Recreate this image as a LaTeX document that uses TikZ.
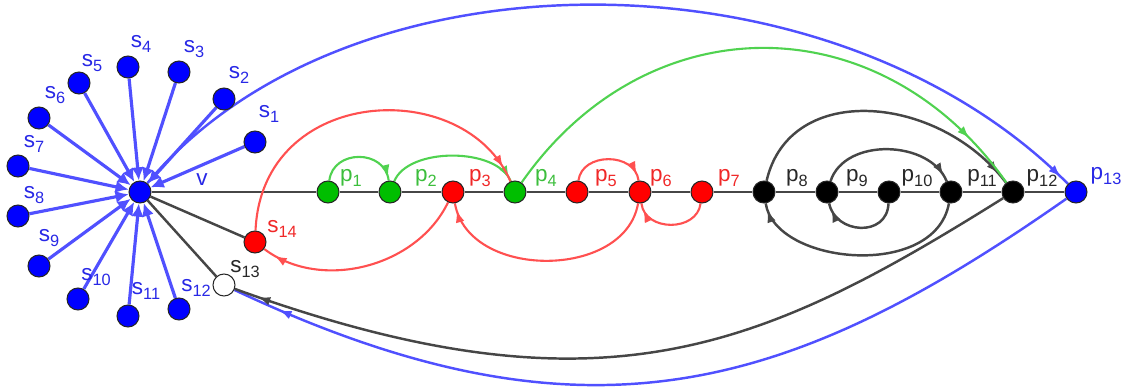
\documentclass[tikz,border=0pt]{standalone}
\usepackage{fontspec}
\setmainfont{Liberation Sans}
\usetikzlibrary{arrows.meta,decorations.markings,backgrounds}
\definecolor{nblue}{RGB}{0,0,255}
\definecolor{lblue}{RGB}{80,80,255}
\definecolor{tblue}{RGB}{40,40,230}
\definecolor{nred}{RGB}{255,0,0}
\definecolor{lred}{RGB}{255,80,80}
\definecolor{tred}{RGB}{240,40,40}
\definecolor{ngreen}{RGB}{0,190,0}
\definecolor{lgreen}{RGB}{80,210,80}
\definecolor{tgreen}{RGB}{60,190,60}
\definecolor{lgray}{RGB}{70,70,70}
\definecolor{tgray}{RGB}{40,40,40}
\newcommand{\lbl}[2]{#1\raisebox{-3pt}{\fontsize{9.3}{10}\selectfont #2}}
\begin{document}
\begin{tikzpicture}[x=0.02cm,y=-0.02cm,
  pt/.style={circle,draw=black!85,line width=0.6pt,minimum size=0.44cm,inner sep=0pt},
  bpt/.style={pt,fill=nblue},
  rpt/.style={pt,fill=nred},
  gpt/.style={pt,fill=ngreen},
  kpt/.style={pt,fill=black},
  wpt/.style={pt,fill=white},
  lab/.style={inner sep=0pt,font=\fontsize{12.8}{14}\selectfont},
  spoke/.style={lblue,line width=1.8pt,-{Latex[length=7.5pt,width=7pt]}},
  blk/.style={lgray,line width=1.4pt},
  bln/.style={lblue,line width=1.4pt},
  rln/.style={lred,line width=1.2pt},
  gln/.style={lgreen,line width=1.2pt},
  tip/.style={postaction={decorate,decoration={markings,mark=at position #1 with {\arrow{Latex[length=7pt,width=5pt]}}}}},
  tip/.default=-4pt]
\useasboundingbox (0,0) rectangle (1134,389);
% nodes
\node[bpt] (v) at (140,192) {};
\node[bpt] (s1) at (255,142) {};
\node[bpt] (s2) at (224,99) {};
\node[bpt] (s3) at (179,72) {};
\node[bpt] (s4) at (128,67) {};
\node[bpt] (s5) at (79,83) {};
\node[bpt] (s6) at (39,118) {};
\node[bpt] (s7) at (18,166) {};
\node[bpt] (s8) at (18,216) {};
\node[bpt] (s9) at (39,266) {};
\node[bpt] (s10) at (78,299) {};
\node[bpt] (s11) at (128,316) {};
\node[bpt] (s12) at (179,309) {};
\node[wpt] (s13) at (224,285) {};
\node[rpt] (s14) at (255,242) {};
\node[gpt] (p1) at (328,192) {};
\node[gpt] (p2) at (390,192) {};
\node[rpt] (p3) at (453,192) {};
\node[gpt] (p4) at (515,192) {};
\node[rpt] (p5) at (577,192) {};
\node[rpt] (p6) at (640,192) {};
\node[rpt] (p7) at (702,192) {};
\node[kpt] (p8) at (764,192) {};
\node[kpt] (p9) at (827,192) {};
\node[kpt] (p10) at (889,192) {};
\node[kpt] (p11) at (951,192) {};
\node[kpt] (p12) at (1013,192) {};
\node[bpt] (p13) at (1076,192) {};
% labels
\node[lab,text=tblue] (lv) at (202,180) {v};
\node[lab,text=tblue] (ls1) at (269,114) {\lbl{s}{1}};
\node[lab,text=tblue] (ls2) at (239,75) {\lbl{s}{2}};
\node[lab,text=tblue] (ls3) at (194,49) {\lbl{s}{3}};
\node[lab,text=tblue] (ls4) at (141,44) {\lbl{s}{4}};
\node[lab,text=tblue] (ls5) at (92,63) {\lbl{s}{5}};
\node[lab,text=tblue] (ls6) at (55,95) {\lbl{s}{6}};
\node[lab,text=tblue] (ls7) at (34,144) {\lbl{s}{7}};
\node[lab,text=tblue] (ls8) at (34,195) {\lbl{s}{8}};
\node[lab,text=tblue] (ls9) at (49,238) {\lbl{s}{9}};
\node[lab,text=tblue] (ls10) at (96,277) {\lbl{s}{10}};
\node[lab,text=tblue] (ls11) at (146,291) {\lbl{s}{11}};
\node[lab,text=tblue] (ls12) at (196,288) {\lbl{s}{12}};
\node[lab,text=tgray] (ls13) at (245,269) {\lbl{s}{13}};
\node[lab,text=tred] (ls14) at (282,229) {\lbl{s}{14}};
\node[lab,text=tgreen] (lp1) at (351,178) {\lbl{p}{1}};
\node[lab,text=tgreen] (lp2) at (426,178) {\lbl{p}{2}};
\node[lab,text=tred] (lp3) at (480,178) {\lbl{p}{3}};
\node[lab,text=tgreen] (lp4) at (546,178) {\lbl{p}{4}};
\node[lab,text=tred] (lp5) at (606,178) {\lbl{p}{5}};
\node[lab,text=tred] (lp6) at (661,178) {\lbl{p}{6}};
\node[lab,text=tred] (lp7) at (729,178) {\lbl{p}{7}};
\node[lab,text=tgray] (lp8) at (797,178) {\lbl{p}{8}};
\node[lab,text=tgray] (lp9) at (857,178) {\lbl{p}{9}};
\node[lab,text=tgray] (lp10) at (917,178) {\lbl{p}{10}};
\node[lab,text=tgray] (lp11) at (982,178) {\lbl{p}{11}};
\node[lab,text=tgray] (lp12) at (1042,178) {\lbl{p}{12}};
\node[lab,text=tblue] (lp13) at (1106,176) {\lbl{p}{13}};
% edges
\begin{scope}[on background layer]
\foreach \i in {1,...,12} {\draw[spoke] (s\i) -- (v);}
\draw[blk] (v) -- (s14);
\draw[blk] (v) -- (s13);
\draw[blk] (v) -- (p1) -- (p2) -- (p3) -- (p4) -- (p5) -- (p6) -- (p7) -- (p8) -- (p9) -- (p10) -- (p11) -- (p12) -- (p13);
% blue arcs
\draw[bln,tip=-5.7pt] (v) .. controls (346,-55) and (831,-55) .. (p13);
\draw[bln,tip=-28pt] (p13) .. controls (789,393) and (585,455) .. (s13);
% black arcs
\draw[blk,tip=-14pt] (p12) .. controls (759,351) and (600,421) .. (s13);
\draw[blk,tip=-7pt] (p8) .. controls (790,80) and (940,95) .. (p12);
\draw[blk,tip] (p9) .. controls (845,137) and (930,140) .. (p11);
\draw[blk,tip] (p10) .. controls (887,238) and (835,234) .. (p9);
\draw[blk,tip] (p11) .. controls (935,280) and (775,265) .. (p8);
% green arcs
\draw[gln,tip=-33pt] (p4) .. controls (647,3) and (880,3) .. (p12);
\draw[gln,tip=-2pt] (p1) .. controls (333,149) and (385,149) .. (p2);
\draw[gln,tip=-2pt] (p2) .. controls (408,147) and (497,147) .. (p4);
% red arcs
\draw[rln,tip=-9pt] (s14) .. controls (262,85) and (465,75) .. (p4);
\draw[rln,tip=-7pt] (p3) .. controls (417,267) and (321,292) .. (s14);
\draw[rln,tip] (p6) .. controls (625,280) and (468,280) .. (p3);
\draw[rln,tip] (p5) .. controls (582,152) and (635,152) .. (p6);
\draw[rln,tip] (p7) .. controls (697,232) and (645,232) .. (p6);
\end{scope}
\end{tikzpicture}
\end{document}
